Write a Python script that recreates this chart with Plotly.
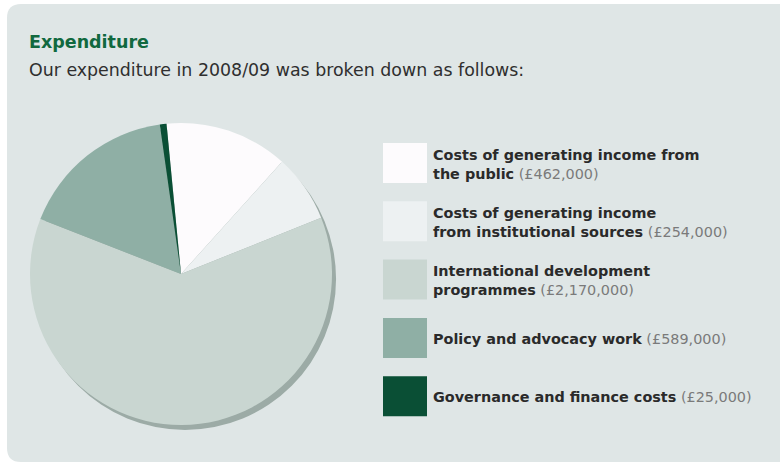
import plotly.graph_objects as go

# ---- data ----
categories = [
    "Costs of generating income from<br>the public",
    "Costs of generating income<br>from institutional sources",
    "International development<br>programmes",
    "Policy and advocacy work",
    "Governance and finance costs",
]
values = [462000, 254000, 2170000, 589000, 25000]
colors = ["#fdfbfd", "#edf1f2", "#c9d6d1", "#8fafa5", "#0a4f35"]

title_text = "Expenditure"
subtitle_text = "Our expenditure in 2008/09 was broken down as follows:"

W, H = 780, 463
def px(x):
    return x / W
def py(y):
    return 1 - y / H

FONT = "DejaVu Sans"
PANEL = "#dfe6e6"

fig = go.Figure()

# pie shadow
cx, cy, r = 181, 274, 151
sdx, sdy = 4, 5
fig.add_trace(go.Pie(
    values=[1], marker=dict(colors=["#9caba6"], line=dict(width=0)),
    textinfo="none", hoverinfo="skip", showlegend=False, sort=False,
    domain=dict(x=[px(cx - r + sdx), px(cx + r + sdx)], y=[py(cy + r + sdy), py(cy - r + sdy)]),
))

fig.add_trace(go.Pie(
    labels=[c.replace("<br>", " ") for c in categories], values=values,
    marker=dict(colors=colors, line=dict(width=0)),
    sort=False, direction="clockwise", rotation=-5.5,
    textinfo="none", showlegend=False,
    domain=dict(x=[px(cx - r), px(cx + r)], y=[py(cy + r), py(cy - r)]),
))

# panel with rounded left corners
x0, x1, y0, y1, rr = px(7), px(781), py(4), py(462), 14
path = (f"M {px(7 + rr)},{y0} L {x1},{y0} L {x1},{y1} L {px(7 + rr)},{y1} "
        f"Q {x0},{y1} {x0},{py(462 - rr)} L {x0},{py(4 + rr)} Q {x0},{y0} {px(7 + rr)},{y0} Z")
shapes = [dict(type="path", path=path, xref="paper", yref="paper",
               fillcolor=PANEL, line=dict(width=0), layer="below")]

annotations = [
    dict(text=f"<b>{title_text}</b>", x=px(27), y=py(42), xref="paper", yref="paper",
         xanchor="left", yanchor="middle", showarrow=False,
         font=dict(family=FONT, size=17.5, color="#11693f")),
    dict(text=subtitle_text, x=px(27), y=py(70), xref="paper", yref="paper",
         xanchor="left", yanchor="middle", showarrow=False,
         font=dict(family=FONT, size=17.4, color="#2f2f2f")),
]

top0, step, sw, sh = 143, 58.3, 44, 40
for i, (cat, val, col) in enumerate(zip(categories, values, colors)):
    t = top0 + i * step
    shapes.append(dict(type="rect", xref="paper", yref="paper",
                       x0=px(383), x1=px(383 + sw), y0=py(t + sh), y1=py(t),
                       fillcolor=col, line=dict(width=0)))
    annotations.append(dict(
        text=f"<b>{cat}</b> <span style='color:#7a7a7a'>(£{val:,})</span>",
        x=px(431), y=py(t + sh / 2 + 1), xref="paper", yref="paper",
        xanchor="left", yanchor="middle", align="left", showarrow=False,
        font=dict(family=FONT, size=14.4, color="#2a2a2a")))

fig.update_layout(
    width=W, height=H, margin=dict(l=0, r=0, t=0, b=0),
    paper_bgcolor="white", plot_bgcolor="white",
    shapes=shapes, annotations=annotations,
)
fig.write_html("out.html", config={"displayModeBar": False},
               post_script="document.body.style.margin='0';")
